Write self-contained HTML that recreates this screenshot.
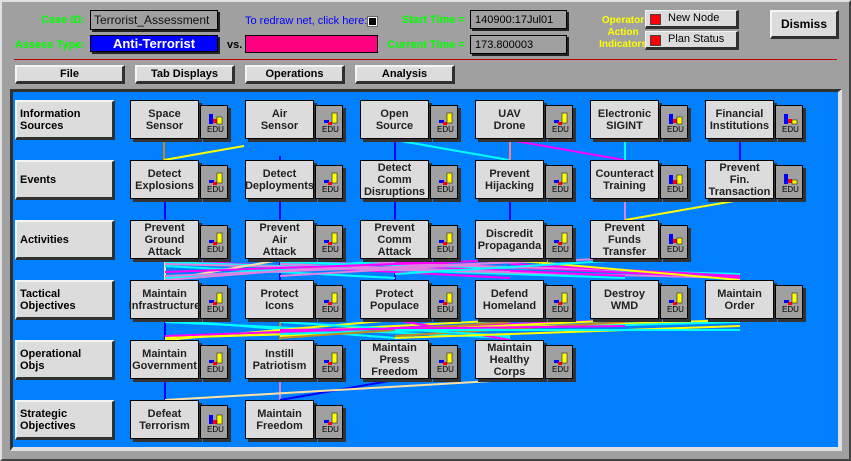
<!DOCTYPE html>
<html><head><style>
*{margin:0;padding:0;box-sizing:border-box}
body{width:851px;height:461px;background:#a0a0a0;position:relative;overflow:hidden;font-family:"Liberation Sans",sans-serif}
.a{position:absolute}
.g{color:#00ff00;font-weight:bold;font-size:11px;white-space:nowrap}
.btn{position:absolute;background:#dcdcdc;border-top:2px solid #f4f4f4;border-left:2px solid #f4f4f4;border-right:3px solid #303030;border-bottom:3px solid #303030;font-weight:bold;font-size:11px;text-align:center;color:#000}
.n{position:absolute;width:69px;height:39px;background:#dcdcdc;border:1px solid #000;box-shadow:3px 3px 0 #333;font-weight:bold;font-size:11px;color:#222;text-align:center;display:flex;align-items:center;justify-content:center;line-height:12px;white-space:nowrap}
.ic{position:absolute;width:28px;height:34px;background:#a0a0a0;border:1px solid #000;box-shadow:3px 3px 0 #333}
.rl{position:absolute;left:15px;width:100px;height:40px;background:#dcdcdc;border-top:2px solid #f4f4f4;border-left:2px solid #f4f4f4;border-right:3px solid #303030;border-bottom:3px solid #303030;font-weight:bold;font-size:11px;display:flex;align-items:center;padding-left:3px;line-height:12px}
</style></head><body>
<div class="a" style="left:0;top:0;width:851px;height:461px;border:2px solid #e0e0e0;border-right-color:#444;border-bottom-color:#444"></div>
<div class="a g" style="right:766px;top:14px">Case ID:</div>
<div class="a" style="left:90px;top:10px;width:128px;height:20px;border:1px solid #000;box-shadow:2px 2px 0 #222;font-size:12px;padding:2px 3px;color:#111;overflow:hidden;white-space:nowrap">Terrorist_Assessment</div>
<div class="a g" style="right:766px;top:39px">Assess Type:</div>
<div class="a" style="left:90px;top:35px;width:128px;height:17px;background:#0000ff;border:1px solid #000;box-shadow:2px 2px 0 #222;font-size:13px;font-weight:bold;color:#fff;text-align:center">Anti-Terrorist</div>
<div class="a" style="left:227px;top:39px;font-size:11px;font-weight:bold">vs.</div>
<div class="a" style="left:245px;top:35px;width:133px;height:18px;background:#ff0080;border:1px solid #000"></div>
<div class="a" style="left:245px;top:15px;color:#0000ff;font-size:11px">To redraw net, click here:</div>
<div class="a" style="left:367px;top:16px;width:11px;height:11px;background:#fff;border:1px solid #666"><div style="margin:1px;width:7px;height:7px;background:#000"></div></div>
<div class="a g" style="right:386px;top:14px">Start Time =</div>
<div class="a g" style="right:386px;top:39px">Current Time =</div>
<div class="a" style="left:470px;top:10px;width:97px;height:19px;border:1px solid #000;box-shadow:2px 2px 0 #222;font-size:11px;padding:3px 4px">140900:17Jul01</div>
<div class="a" style="left:470px;top:35px;width:97px;height:19px;border:1px solid #000;box-shadow:2px 2px 0 #222;font-size:11px;padding:3px 4px">173.800003</div>
<div class="a" style="left:588px;top:15px;width:70px;color:#ffff00;font-weight:bold;font-size:10px;text-align:center;line-height:12px">Operator<br>Action<br>Indicators</div>
<div class="btn" style="left:645px;top:10px;width:94px;height:19px;font-weight:normal;text-align:left;padding-left:22px;font-size:11px;line-height:14px;border-width:1px 3px 3px 1px">New Node</div>
<div class="a" style="left:650px;top:14px;width:11px;height:11px;background:#ff0000;border:1px solid #444"></div>
<div class="btn" style="left:645px;top:31px;width:94px;height:19px;font-weight:normal;text-align:left;padding-left:22px;font-size:11px;line-height:14px;border-width:1px 3px 3px 1px">Plan Status</div>
<div class="a" style="left:650px;top:35px;width:11px;height:11px;background:#ff0000;border:1px solid #444"></div>
<div class="btn" style="left:770px;top:10px;width:69px;height:29px;line-height:24px;font-size:12px">Dismiss</div>
<div class="a" style="left:14px;top:59px;width:823px;height:1px;background:#c00000"></div>
<div class="btn" style="left:15px;top:65px;width:110px;height:19px;line-height:14px">File</div>
<div class="btn" style="left:135px;top:65px;width:100px;height:19px;line-height:14px">Tab Displays</div>
<div class="btn" style="left:245px;top:65px;width:100px;height:19px;line-height:14px">Operations</div>
<div class="btn" style="left:355px;top:65px;width:100px;height:19px;line-height:14px">Analysis</div>
<div class="a" style="left:10px;top:89px;width:832px;height:362px;border-top:3px solid #303030;border-left:3px solid #303030;border-right:4px solid #e0e0e0;border-bottom:4px solid #e0e0e0;background:#0080ff"></div>
<svg class="a" style="left:0;top:0" width="851" height="461" stroke-width="2" fill="none">
<line x1="164" y1="138" x2="164" y2="160" stroke="#c08820"/>
<line x1="164" y1="160" x2="244" y2="146" stroke="#ffff00"/>
<line x1="280" y1="156" x2="280" y2="160" stroke="#0000ff"/>
<line x1="395" y1="138" x2="395" y2="160" stroke="#0000ff"/>
<line x1="395" y1="140" x2="509" y2="160" stroke="#00ffff"/>
<line x1="510" y1="138" x2="510" y2="160" stroke="#ff8080"/>
<line x1="510" y1="140" x2="624" y2="160" stroke="#ff00ff"/>
<line x1="625" y1="138" x2="625" y2="160" stroke="#00ffff"/>
<line x1="740" y1="138" x2="740" y2="160" stroke="#0000ff"/>
<line x1="165" y1="198" x2="165" y2="220" stroke="#0000ff"/>
<line x1="280" y1="198" x2="280" y2="220" stroke="#0000ff"/>
<line x1="395" y1="198" x2="395" y2="220" stroke="#0000ff"/>
<line x1="510" y1="198" x2="510" y2="220" stroke="#0000ff"/>
<line x1="625" y1="198" x2="625" y2="220" stroke="#e080e0"/>
<line x1="625" y1="220" x2="740" y2="200" stroke="#ffff00"/>
<g stroke-width="2">
<line x1="165" y1="258" x2="165" y2="280" stroke="#ffe0a0"/>
<line x1="280" y1="258" x2="280" y2="280" stroke="#0000ff"/>
<line x1="395" y1="258" x2="395" y2="280" stroke="#0000ff"/>
<line x1="165" y1="260" x2="510" y2="278" stroke="#ff00ff"/>
<line x1="165" y1="262" x2="625" y2="278" stroke="#00ffff"/>
<line x1="165" y1="264" x2="740" y2="278" stroke="#e080e0"/>
<line x1="165" y1="266" x2="395" y2="278" stroke="#00ffff"/>
<line x1="165" y1="280" x2="280" y2="260" stroke="#ffe0a0"/>
<line x1="165" y1="280" x2="395" y2="262" stroke="#e080e0"/>
<line x1="280" y1="260" x2="625" y2="276" stroke="#ff00ff"/>
<line x1="280" y1="262" x2="740" y2="274" stroke="#00ffff"/>
<line x1="280" y1="264" x2="510" y2="272" stroke="#e080e0"/>
<line x1="395" y1="260" x2="165" y2="278" stroke="#00ffff"/>
<line x1="395" y1="262" x2="740" y2="278" stroke="#ff00ff"/>
<line x1="395" y1="264" x2="625" y2="270" stroke="#e080e0"/>
<line x1="510" y1="260" x2="165" y2="272" stroke="#ff00ff"/>
<line x1="510" y1="262" x2="280" y2="276" stroke="#e080e0"/>
<line x1="510" y1="264" x2="740" y2="276" stroke="#ff00ff"/>
<line x1="625" y1="258" x2="165" y2="276" stroke="#e080e0"/>
<line x1="510" y1="260" x2="740" y2="280" stroke="#ffff00"/>
<line x1="625" y1="260" x2="395" y2="274" stroke="#00ffff"/>
</g>
<g stroke-width="2">
<line x1="165" y1="318" x2="165" y2="340" stroke="#0000ff"/>
<line x1="280" y1="318" x2="280" y2="340" stroke="#c08820"/>
<line x1="165" y1="320" x2="395" y2="338" stroke="#00ffff"/>
<line x1="165" y1="322" x2="510" y2="338" stroke="#00ffff"/>
<line x1="165" y1="340" x2="395" y2="320" stroke="#ffff00"/>
<line x1="165" y1="338" x2="510" y2="320" stroke="#ffff00"/>
<line x1="165" y1="336" x2="625" y2="320" stroke="#ff00ff"/>
<line x1="165" y1="338" x2="740" y2="320" stroke="#ffff00"/>
<line x1="280" y1="336" x2="625" y2="320" stroke="#ffff00"/>
<line x1="280" y1="334" x2="740" y2="322" stroke="#00ffff"/>
<line x1="395" y1="320" x2="510" y2="340" stroke="#ff00ff"/>
<line x1="280" y1="338" x2="510" y2="322" stroke="#c08820"/>
<line x1="395" y1="336" x2="625" y2="322" stroke="#c08820"/>
<line x1="280" y1="322" x2="510" y2="336" stroke="#00ffff"/>
<line x1="395" y1="338" x2="740" y2="326" stroke="#ffff00"/>
<line x1="280" y1="330" x2="625" y2="326" stroke="#ff00ff"/>
<line x1="395" y1="330" x2="740" y2="330" stroke="#00ffff"/>
</g>
<line x1="165" y1="378" x2="165" y2="400" stroke="#0000ff"/>
<line x1="280" y1="378" x2="280" y2="400" stroke="#e080e0"/>
<line x1="280" y1="400" x2="395" y2="380" stroke="#0000ff"/>
<line x1="165" y1="400" x2="510" y2="380" stroke="#ffe0a0"/>
</svg>
<div class="rl" style="top:100px">Information<br>Sources</div>
<div class="rl" style="top:160px">Events</div>
<div class="rl" style="top:220px">Activities</div>
<div class="rl" style="top:280px">Tactical<br>Objectives</div>
<div class="rl" style="top:340px">Operational<br>Objs</div>
<div class="rl" style="top:400px">Strategic<br>Objectives</div>

<div class="n" style="left:130px;top:100px">Space<br>Sensor</div><div class="ic" style="left:200px;top:105px"><svg width="26" height="32"><rect x="8" y="8" width="4" height="10" fill="#00f"/><rect x="12" y="13" width="4" height="4" fill="#f00"/><rect x="16" y="11" width="5" height="7" fill="#ff0" stroke="#000" stroke-width=".5"/><text x="6" y="26" font-size="8" font-family="Liberation Sans">EDU</text></svg></div>
<div class="n" style="left:245px;top:100px">Air<br>Sensor</div><div class="ic" style="left:315px;top:105px"><svg width="26" height="32"><rect x="8" y="14" width="5" height="3" fill="#00f"/><rect x="12" y="16" width="4" height="3" fill="#f00"/><rect x="16" y="7" width="5" height="10" fill="#ff0" stroke="#000" stroke-width=".5"/><text x="6" y="26" font-size="8" font-family="Liberation Sans">EDU</text></svg></div>
<div class="n" style="left:360px;top:100px">Open<br>Source</div><div class="ic" style="left:430px;top:105px"><svg width="26" height="32"><rect x="8" y="14" width="5" height="3" fill="#00f"/><rect x="12" y="16" width="4" height="3" fill="#f00"/><rect x="16" y="7" width="5" height="10" fill="#ff0" stroke="#000" stroke-width=".5"/><text x="6" y="26" font-size="8" font-family="Liberation Sans">EDU</text></svg></div>
<div class="n" style="left:475px;top:100px">UAV<br>Drone</div><div class="ic" style="left:545px;top:105px"><svg width="26" height="32"><rect x="8" y="14" width="5" height="3" fill="#00f"/><rect x="12" y="16" width="4" height="3" fill="#f00"/><rect x="16" y="7" width="5" height="10" fill="#ff0" stroke="#000" stroke-width=".5"/><text x="6" y="26" font-size="8" font-family="Liberation Sans">EDU</text></svg></div>
<div class="n" style="left:590px;top:100px">Electronic<br>SIGINT</div><div class="ic" style="left:660px;top:105px"><svg width="26" height="32"><rect x="8" y="8" width="4" height="10" fill="#00f"/><rect x="12" y="13" width="4" height="4" fill="#f00"/><rect x="16" y="11" width="5" height="7" fill="#ff0" stroke="#000" stroke-width=".5"/><text x="6" y="26" font-size="8" font-family="Liberation Sans">EDU</text></svg></div>
<div class="n" style="left:705px;top:100px">Financial<br>Institutions</div><div class="ic" style="left:775px;top:105px"><svg width="26" height="32"><rect x="8" y="8" width="4" height="10" fill="#00f"/><rect x="12" y="13" width="4" height="4" fill="#f00"/><rect x="16" y="14" width="5" height="4" fill="#ff0" stroke="#000" stroke-width=".5"/><text x="6" y="26" font-size="8" font-family="Liberation Sans">EDU</text></svg></div>

<div class="n" style="left:130px;top:160px">Detect<br>Explosions</div><div class="ic" style="left:200px;top:165px"><svg width="26" height="32"><rect x="8" y="14" width="5" height="3" fill="#00f"/><rect x="12" y="16" width="4" height="3" fill="#f00"/><rect x="16" y="7" width="5" height="10" fill="#ff0" stroke="#000" stroke-width=".5"/><text x="6" y="26" font-size="8" font-family="Liberation Sans">EDU</text></svg></div>
<div class="n" style="left:245px;top:160px">Detect<br>Deployments</div><div class="ic" style="left:315px;top:165px"><svg width="26" height="32"><rect x="8" y="14" width="5" height="3" fill="#00f"/><rect x="12" y="16" width="4" height="3" fill="#f00"/><rect x="16" y="7" width="5" height="10" fill="#ff0" stroke="#000" stroke-width=".5"/><text x="6" y="26" font-size="8" font-family="Liberation Sans">EDU</text></svg></div>
<div class="n" style="left:360px;top:160px">Detect<br>Comm<br>Disruptions</div><div class="ic" style="left:430px;top:165px"><svg width="26" height="32"><rect x="8" y="14" width="5" height="3" fill="#00f"/><rect x="12" y="16" width="4" height="3" fill="#f00"/><rect x="16" y="7" width="5" height="10" fill="#ff0" stroke="#000" stroke-width=".5"/><text x="6" y="26" font-size="8" font-family="Liberation Sans">EDU</text></svg></div>
<div class="n" style="left:475px;top:160px">Prevent<br>Hijacking</div><div class="ic" style="left:545px;top:165px"><svg width="26" height="32"><rect x="8" y="14" width="5" height="3" fill="#00f"/><rect x="12" y="16" width="4" height="3" fill="#f00"/><rect x="16" y="7" width="5" height="10" fill="#ff0" stroke="#000" stroke-width=".5"/><text x="6" y="26" font-size="8" font-family="Liberation Sans">EDU</text></svg></div>
<div class="n" style="left:590px;top:160px">Counteract<br>Training</div><div class="ic" style="left:660px;top:165px"><svg width="26" height="32"><rect x="8" y="9" width="4" height="9" fill="#00f"/><rect x="12" y="14" width="4" height="4" fill="#f00"/><rect x="16" y="9" width="5" height="9" fill="#ff0" stroke="#000" stroke-width=".5"/><text x="6" y="26" font-size="8" font-family="Liberation Sans">EDU</text></svg></div>
<div class="n" style="left:705px;top:160px">Prevent<br>Fin.<br>Transaction</div><div class="ic" style="left:775px;top:165px"><svg width="26" height="32"><rect x="8" y="8" width="4" height="10" fill="#00f"/><rect x="12" y="13" width="4" height="4" fill="#f00"/><rect x="16" y="14" width="5" height="4" fill="#ff0" stroke="#000" stroke-width=".5"/><text x="6" y="26" font-size="8" font-family="Liberation Sans">EDU</text></svg></div>

<div class="n" style="left:130px;top:220px">Prevent<br>Ground<br>Attack</div><div class="ic" style="left:200px;top:225px"><svg width="26" height="32"><rect x="8" y="14" width="5" height="3" fill="#00f"/><rect x="12" y="16" width="4" height="3" fill="#f00"/><rect x="16" y="7" width="5" height="10" fill="#ff0" stroke="#000" stroke-width=".5"/><text x="6" y="26" font-size="8" font-family="Liberation Sans">EDU</text></svg></div>
<div class="n" style="left:245px;top:220px">Prevent<br>Air<br>Attack</div><div class="ic" style="left:315px;top:225px"><svg width="26" height="32"><rect x="8" y="14" width="5" height="3" fill="#00f"/><rect x="12" y="16" width="4" height="3" fill="#f00"/><rect x="16" y="7" width="5" height="10" fill="#ff0" stroke="#000" stroke-width=".5"/><text x="6" y="26" font-size="8" font-family="Liberation Sans">EDU</text></svg></div>
<div class="n" style="left:360px;top:220px">Prevent<br>Comm<br>Attack</div><div class="ic" style="left:430px;top:225px"><svg width="26" height="32"><rect x="8" y="14" width="5" height="3" fill="#00f"/><rect x="12" y="16" width="4" height="3" fill="#f00"/><rect x="16" y="7" width="5" height="10" fill="#ff0" stroke="#000" stroke-width=".5"/><text x="6" y="26" font-size="8" font-family="Liberation Sans">EDU</text></svg></div>
<div class="n" style="left:475px;top:220px">Discredit<br>Propaganda</div><div class="ic" style="left:545px;top:225px"><svg width="26" height="32"><rect x="8" y="14" width="5" height="3" fill="#00f"/><rect x="12" y="16" width="4" height="3" fill="#f00"/><rect x="16" y="7" width="5" height="10" fill="#ff0" stroke="#000" stroke-width=".5"/><text x="6" y="26" font-size="8" font-family="Liberation Sans">EDU</text></svg></div>
<div class="n" style="left:590px;top:220px">Prevent<br>Funds<br>Transfer</div><div class="ic" style="left:660px;top:225px"><svg width="26" height="32"><rect x="8" y="8" width="4" height="10" fill="#00f"/><rect x="12" y="13" width="4" height="4" fill="#f00"/><rect x="16" y="12" width="5" height="6" fill="#ff0" stroke="#000" stroke-width=".5"/><text x="6" y="26" font-size="8" font-family="Liberation Sans">EDU</text></svg></div>

<div class="n" style="left:130px;top:280px">Maintain<br>Infrastructure</div><div class="ic" style="left:200px;top:285px"><svg width="26" height="32"><rect x="8" y="14" width="5" height="3" fill="#00f"/><rect x="12" y="16" width="4" height="3" fill="#f00"/><rect x="16" y="7" width="5" height="10" fill="#ff0" stroke="#000" stroke-width=".5"/><text x="6" y="26" font-size="8" font-family="Liberation Sans">EDU</text></svg></div>
<div class="n" style="left:245px;top:280px">Protect<br>Icons</div><div class="ic" style="left:315px;top:285px"><svg width="26" height="32"><rect x="8" y="14" width="5" height="3" fill="#00f"/><rect x="12" y="16" width="4" height="3" fill="#f00"/><rect x="16" y="7" width="5" height="10" fill="#ff0" stroke="#000" stroke-width=".5"/><text x="6" y="26" font-size="8" font-family="Liberation Sans">EDU</text></svg></div>
<div class="n" style="left:360px;top:280px">Protect<br>Populace</div><div class="ic" style="left:430px;top:285px"><svg width="26" height="32"><rect x="8" y="14" width="5" height="3" fill="#00f"/><rect x="12" y="16" width="4" height="3" fill="#f00"/><rect x="16" y="7" width="5" height="10" fill="#ff0" stroke="#000" stroke-width=".5"/><text x="6" y="26" font-size="8" font-family="Liberation Sans">EDU</text></svg></div>
<div class="n" style="left:475px;top:280px">Defend<br>Homeland</div><div class="ic" style="left:545px;top:285px"><svg width="26" height="32"><rect x="8" y="14" width="5" height="3" fill="#00f"/><rect x="12" y="16" width="4" height="3" fill="#f00"/><rect x="16" y="7" width="5" height="10" fill="#ff0" stroke="#000" stroke-width=".5"/><text x="6" y="26" font-size="8" font-family="Liberation Sans">EDU</text></svg></div>
<div class="n" style="left:590px;top:280px">Destroy<br>WMD</div><div class="ic" style="left:660px;top:285px"><svg width="26" height="32"><rect x="8" y="14" width="5" height="3" fill="#00f"/><rect x="12" y="16" width="4" height="3" fill="#f00"/><rect x="16" y="7" width="5" height="10" fill="#ff0" stroke="#000" stroke-width=".5"/><text x="6" y="26" font-size="8" font-family="Liberation Sans">EDU</text></svg></div>
<div class="n" style="left:705px;top:280px">Maintain<br>Order</div><div class="ic" style="left:775px;top:285px"><svg width="26" height="32"><rect x="8" y="14" width="5" height="3" fill="#00f"/><rect x="12" y="16" width="4" height="3" fill="#f00"/><rect x="16" y="7" width="5" height="10" fill="#ff0" stroke="#000" stroke-width=".5"/><text x="6" y="26" font-size="8" font-family="Liberation Sans">EDU</text></svg></div>

<div class="n" style="left:130px;top:340px">Maintain<br>Government</div><div class="ic" style="left:200px;top:345px"><svg width="26" height="32"><rect x="8" y="14" width="5" height="3" fill="#00f"/><rect x="12" y="16" width="4" height="3" fill="#f00"/><rect x="16" y="7" width="5" height="10" fill="#ff0" stroke="#000" stroke-width=".5"/><text x="6" y="26" font-size="8" font-family="Liberation Sans">EDU</text></svg></div>
<div class="n" style="left:245px;top:340px">Instill<br>Patriotism</div><div class="ic" style="left:315px;top:345px"><svg width="26" height="32"><rect x="8" y="14" width="5" height="3" fill="#00f"/><rect x="12" y="16" width="4" height="3" fill="#f00"/><rect x="16" y="7" width="5" height="10" fill="#ff0" stroke="#000" stroke-width=".5"/><text x="6" y="26" font-size="8" font-family="Liberation Sans">EDU</text></svg></div>
<div class="n" style="left:360px;top:340px">Maintain<br>Press<br>Freedom</div><div class="ic" style="left:430px;top:345px"><svg width="26" height="32"><rect x="8" y="14" width="5" height="3" fill="#00f"/><rect x="12" y="16" width="4" height="3" fill="#f00"/><rect x="16" y="7" width="5" height="10" fill="#ff0" stroke="#000" stroke-width=".5"/><text x="6" y="26" font-size="8" font-family="Liberation Sans">EDU</text></svg></div>
<div class="n" style="left:475px;top:340px">Maintain<br>Healthy<br>Corps</div><div class="ic" style="left:545px;top:345px"><svg width="26" height="32"><rect x="8" y="14" width="5" height="3" fill="#00f"/><rect x="12" y="16" width="4" height="3" fill="#f00"/><rect x="16" y="7" width="5" height="10" fill="#ff0" stroke="#000" stroke-width=".5"/><text x="6" y="26" font-size="8" font-family="Liberation Sans">EDU</text></svg></div>

<div class="n" style="left:130px;top:400px">Defeat<br>Terrorism</div><div class="ic" style="left:200px;top:405px"><svg width="26" height="32"><rect x="8" y="9" width="4" height="9" fill="#00f"/><rect x="12" y="14" width="4" height="4" fill="#f00"/><rect x="16" y="9" width="5" height="9" fill="#ff0" stroke="#000" stroke-width=".5"/><text x="6" y="26" font-size="8" font-family="Liberation Sans">EDU</text></svg></div>
<div class="n" style="left:245px;top:400px">Maintain<br>Freedom</div><div class="ic" style="left:315px;top:405px"><svg width="26" height="32"><rect x="8" y="14" width="5" height="3" fill="#00f"/><rect x="12" y="16" width="4" height="3" fill="#f00"/><rect x="16" y="7" width="5" height="10" fill="#ff0" stroke="#000" stroke-width=".5"/><text x="6" y="26" font-size="8" font-family="Liberation Sans">EDU</text></svg></div>
</body></html>
